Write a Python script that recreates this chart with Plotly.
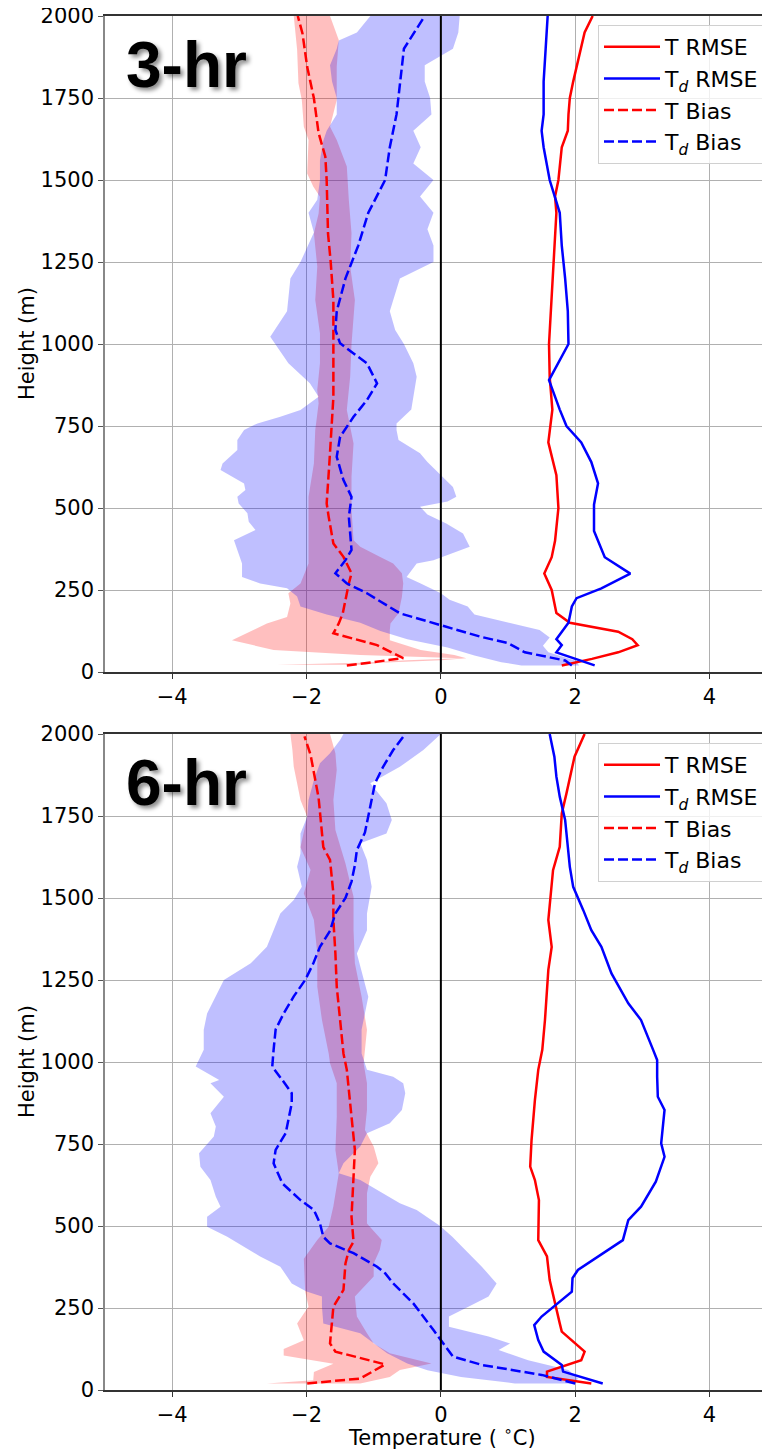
import plotly.graph_objects as go

# ---------------- 3-hr panel data ----------------
h3_t_rmse = [20, 40, 60, 82, 100, 123, 150, 180, 200, 250, 300, 350, 400, 500, 600, 700, 800, 900, 1000,
             1100, 1200, 1300, 1400, 1450, 1500, 1600, 1650, 1700, 1750, 1800, 1900, 1950, 2000]
t3_rmse = [1.80, 2.25, 2.64, 2.93, 2.85, 2.64, 1.92, 1.72, 1.70, 1.65, 1.54, 1.65, 1.70, 1.75, 1.72, 1.60, 1.66,
           1.62, 1.61, 1.64, 1.66, 1.70, 1.72, 1.70, 1.75, 1.80, 1.89, 1.90, 1.92, 1.97, 2.09, 2.14, 2.26]

h3_td_rmse = [20, 60, 82, 100, 150, 200, 225, 255, 300, 350, 430, 510, 575, 640, 700, 750, 800, 890, 1000,
              1100, 1200, 1300, 1400, 1450, 1500, 1600, 1650, 1700, 1800, 1900, 2000]
td3_rmse = [2.29, 1.72, 1.80, 1.72, 1.90, 1.95, 2.02, 2.39, 2.82, 2.44, 2.28, 2.28, 2.34, 2.24, 2.09, 1.87, 1.77,
            1.61, 1.90, 1.89, 1.85, 1.80, 1.77, 1.70, 1.62, 1.53, 1.50, 1.53, 1.53, 1.56, 1.59]

h3_t_bias = [20, 42, 82, 118, 148, 179, 270, 301, 351, 392, 473, 514, 636, 838, 1033, 1134, 1250, 1337, 1500,
             1571, 1643, 1749, 1845, 1947, 2000]
t3_bias = [-1.40, -0.56, -0.95, -1.60, -1.52, -1.46, -1.37, -1.33, -1.45, -1.60, -1.67, -1.70, -1.66, -1.60,
           -1.60, -1.60, -1.64, -1.68, -1.70, -1.72, -1.82, -1.89, -1.99, -2.06, -2.13]

h3_td_bias = [20, 35, 60, 88, 107, 143, 179, 240, 270, 301, 341, 372, 473, 534, 585, 656, 717, 778, 829, 880,
              941, 1002, 1043, 1100, 1200, 1300, 1400, 1500, 1600, 1700, 1800, 1900, 2000]
td3_bias = [1.95, 1.85, 1.25, 1.00, 0.60, -0.01, -0.61, -1.10, -1.40, -1.57, -1.42, -1.33, -1.37, -1.33, -1.45,
            -1.55, -1.50, -1.30, -1.10, -0.95, -1.10, -1.50, -1.57, -1.55, -1.42, -1.23, -1.08, -0.83, -0.76,
            -0.66, -0.61, -0.55, -0.24]

# T bias spread band (left / right edges)
h3_tband_left = [22, 28, 36, 42, 52, 67, 97, 128, 148, 168, 209, 240, 270, 331, 433, 534, 636, 738, 819, 860,
                 941, 1033, 1134, 1236, 1338, 1398, 1449, 1480, 1520, 1622, 1662, 1744, 1795, 1897, 2000]
t3_band_left = [-2.44, -1.20, -0.50, 0.30, -1.20, -2.49, -3.11, -2.78, -2.59, -2.29, -2.24, -2.27, -2.09, -1.97,
                -1.97, -1.97, -1.89, -1.87, -1.82, -1.84, -1.80, -1.80, -1.87, -1.84, -1.89, -1.82, -1.80, -1.90,
                -1.99, -1.97, -2.04, -2.07, -2.12, -2.14, -2.19]
h3_tband_right = [22, 28, 36, 42, 52, 67, 97, 128, 148, 179, 229, 270, 301, 331, 351, 382, 402, 494, 595, 697,
                  799, 900, 1000, 1134, 1236, 1338, 1439, 1541, 1622, 1662, 1744, 1845, 1927, 2000]
t3_band_right = [-1.15, -0.90, 0.00, 0.38, 0.20, -0.30, -0.76, -0.76, -0.75, -0.63, -0.58, -0.56, -0.58, -0.71,
                 -0.91, -1.20, -1.30, -1.33, -1.33, -1.30, -1.40, -1.35, -1.33, -1.28, -1.35, -1.33, -1.37, -1.40,
                 -1.55, -1.65, -1.55, -1.55, -1.52, -1.65]

# Td bias spread band
h3_tdband_left = [20, 30, 50, 75, 100, 125, 150, 175, 200, 230, 255, 270, 290, 331, 372, 402, 433, 458, 484, 514,
                  534, 555, 575, 595, 616, 636, 677, 707, 738, 758, 778, 799, 839, 880, 941, 1022, 1100, 1200,
                  1250, 1340, 1400, 1440, 1500, 1560, 1620, 1650, 1700, 1750, 1800, 1850, 1900, 1925, 1950, 2000]
td3_band_left = [1.20, 0.90, 0.50, 0.10, -0.50, -0.90, -1.20, -1.70, -2.09, -2.14, -2.29, -2.69, -2.96, -2.96,
                 -3.03, -3.08, -2.76, -2.86, -2.88, -3.01, -3.03, -2.91, -2.93, -3.10, -3.28, -3.25, -3.03, -3.03,
                 -2.93, -2.73, -2.39, -2.09, -1.82, -1.95, -2.27, -2.54, -2.29, -2.24, -2.09, -1.89, -1.97, -1.84,
                 -1.80, -1.80, -1.75, -1.70, -1.55, -1.55, -1.62, -1.65, -1.55, -1.52, -1.25, -1.05]
h3_tdband_right = [20, 35, 60, 80, 105, 128, 150, 175, 200, 220, 240, 270, 290, 331, 341, 382, 422, 453, 480, 504,
                   520, 534, 564, 600, 640, 667, 707, 738, 758, 800, 900, 941, 1000, 1043, 1100, 1200, 1250, 1300,
                   1350, 1400, 1450, 1500, 1550, 1600, 1650, 1700, 1750, 1800, 1850, 1900, 1950, 2000]
td3_band_right = [2.06, 2.00, 1.60, 1.52, 1.62, 1.47, 1.00, 0.50, 0.40, 0.13, 0.00, -0.30, -0.51, -0.36, -0.11,
                  0.43, 0.33, 0.08, -0.20, -0.31, 0.10, 0.23, 0.18, 0.00, -0.20, -0.31, -0.63, -0.66, -0.66, -0.44,
                  -0.36, -0.41, -0.55, -0.68, -0.76, -0.61, -0.11, -0.11, -0.20, -0.11, -0.31, -0.11, -0.41, -0.30,
                  -0.41, -0.14, -0.16, -0.24, -0.24, 0.18, 0.26, 0.28]

# ---------------- 6-hr panel data ----------------
h6_t_rmse = [20, 40, 56, 91, 117, 178, 203, 285, 335, 407, 457, 579, 640, 681, 762, 884, 976, 1037, 1128, 1281,
             1351, 1433, 1585, 1656, 1758, 1819, 1931, 2000]
t6_rmse = [2.24, 1.58, 1.58, 2.09, 2.14, 1.80, 1.77, 1.67, 1.62, 1.58, 1.45, 1.46, 1.40, 1.33, 1.35, 1.40, 1.45,
           1.51, 1.55, 1.60, 1.65, 1.60, 1.67, 1.77, 1.80, 1.87, 1.99, 2.14]

h6_td_rmse = [20, 56, 76, 117, 152, 198, 224, 300, 341, 366, 457, 518, 559, 635, 711, 752, 854, 894, 955, 1006,
              1037, 1128, 1179, 1270, 1351, 1402, 1463, 1534, 1595, 1738, 1809, 1870, 1931, 2000]
td6_rmse = [2.41, 1.82, 1.80, 1.53, 1.45, 1.39, 1.50, 1.95, 1.96, 2.04, 2.71, 2.79, 2.98, 3.20, 3.33, 3.28, 3.33,
            3.23, 3.22, 3.22, 3.16, 2.98, 2.79, 2.54, 2.39, 2.24, 2.12, 1.97, 1.92, 1.85, 1.77, 1.72, 1.69, 1.62]

h6_t_bias = [20, 35, 78, 117, 142, 203, 254, 305, 386, 427, 452, 528, 630, 732, 833, 976, 1026, 1128, 1230, 1331,
             1433, 1514, 1616, 1655, 1748, 1805, 1937, 1993]
t6_bias = [-1.99, -1.20, -0.83, -1.57, -1.65, -1.62, -1.60, -1.45, -1.42, -1.37, -1.30, -1.33, -1.30, -1.28,
           -1.33, -1.40, -1.45, -1.50, -1.55, -1.57, -1.60, -1.60, -1.65, -1.75, -1.80, -1.82, -1.94, -2.03]

h6_td_bias = [20, 30, 46, 61, 76, 102, 142, 183, 264, 325, 356, 376, 417, 447, 467, 508, 549, 579, 630, 691, 732,
              783, 874, 905, 945, 986, 1037, 1099, 1148, 1200, 1250, 1300, 1351, 1400, 1453, 1500, 1550, 1600,
              1646, 1700, 1800, 1850, 1900, 1951, 2000]
td6_bias = [2.00, 1.80, 1.50, 1.06, 0.62, 0.18, 0.03, -0.11, -0.41, -0.71, -0.83, -0.95, -1.30, -1.65, -1.75,
            -1.80, -1.89, -2.09, -2.36, -2.49, -2.46, -2.31, -2.22, -2.22, -2.36, -2.51, -2.49, -2.46, -2.34,
            -2.19, -2.02, -1.90, -1.80, -1.65, -1.57, -1.42, -1.33, -1.28, -1.25, -1.13, -1.03, -0.98, -0.86,
            -0.71, -0.53]

h6_tband_left = [20, 30, 55, 80, 105, 125, 152, 203, 233, 254, 300, 400, 457, 498, 560, 660, 732, 833, 935, 996,
                 1026, 1128, 1230, 1331, 1433, 1514, 1585, 1655, 1748, 1799, 1850, 1900, 1951, 2000]
t6_band_left = [-2.59, -1.90, -1.89, -1.60, -2.34, -2.34, -2.04, -2.14, -2.04, -1.97, -2.02, -2.04, -1.84, -1.67,
                -1.60, -1.52, -1.57, -1.55, -1.55, -1.65, -1.67, -1.77, -1.84, -1.84, -1.89, -2.04, -1.94, -2.09,
                -1.99, -2.09, -2.14, -2.19, -2.21, -2.24]
h6_tband_right = [20, 40, 61, 81, 112, 142, 173, 224, 285, 346, 386, 427, 457, 508, 600, 650, 691, 742, 793, 854,
                  935, 996, 1098, 1199, 1301, 1402, 1504, 1605, 1707, 1799, 1890, 1941, 2000]
t6_band_right = [-1.20, -0.76, -0.61, -0.14, -0.76, -1.00, -1.10, -1.25, -1.28, -1.00, -1.00, -0.91, -0.88, -1.10,
                 -1.10, -1.05, -0.93, -1.00, -1.13, -1.10, -1.10, -1.15, -1.10, -1.18, -1.28, -1.30, -1.30, -1.42,
                 -1.57, -1.60, -1.55, -1.57, -1.65]

h6_tdband_left = [20, 40, 60, 81, 112, 142, 173, 203, 254, 285, 300, 325, 376, 407, 437, 467, 498, 528, 559, 589,
                  640, 681, 722, 773, 803, 844, 894, 935, 945, 986, 1037, 1098, 1148, 1199, 1250, 1301, 1351, 1402,
                  1453, 1494, 1534, 1595, 1636, 1697, 1748, 1799, 1860, 1911, 1941, 1982, 2000]
td6_band_left = [1.10, 0.30, -0.20, -0.50, -0.80, -1.00, -1.20, -1.75, -1.77, -1.77, -2.00, -2.22, -2.39, -2.69,
                 -2.93, -3.18, -3.48, -3.48, -3.28, -3.35, -3.43, -3.58, -3.60, -3.38, -3.35, -3.43, -3.23, -3.43,
                 -3.30, -3.65, -3.53, -3.53, -3.48, -3.35, -3.23, -2.83, -2.59, -2.49, -2.39, -2.19, -2.07, -2.14,
                 -2.09, -2.09, -1.99, -1.97, -1.89, -1.80, -1.65, -1.50, -1.45]
h6_tdband_right = [20, 36, 61, 91, 122, 142, 163, 193, 224, 254, 285, 325, 376, 427, 467, 500, 549, 569, 600, 640,
                   661, 691, 742, 783, 813, 854, 905, 935, 955, 976, 1026, 1098, 1199, 1250, 1331, 1402, 1453, 1534,
                   1616, 1667, 1697, 1738, 1789, 1850, 1900, 1951, 2000]
td6_band_right = [2.00, 2.04, 1.90, 1.30, 0.86, 1.03, 0.71, 0.12, 0.12, 0.41, 0.71, 0.83, 0.61, 0.37, 0.17, -0.01,
                  -0.36, -0.61, -0.86, -1.20, -1.52, -1.45, -1.20, -1.10, -0.76, -0.58, -0.53, -0.56, -0.71, -1.10,
                  -1.18, -1.18, -1.08, -1.15, -1.25, -1.10, -1.10, -1.03, -1.10, -1.20, -0.81, -0.73, -0.81, -1.05,
                  -0.61, -0.26, 0.00]

x_ticks = [-4, -2, 0, 2, 4]
x_ticktext = ["\u22124", "\u22122", "0", "2", "4"]
y_ticks = [0, 250, 500, 750, 1000, 1250, 1500, 1750, 2000]
panel_labels = ["3-hr", "6-hr"]
legend_names = ["T RMSE", "T<sub><i>d</i></sub> RMSE", "T Bias", "T<sub><i>d</i></sub> Bias"]

RED = "#ff0000"
BLUE = "#0000ff"
FONT = "DejaVu Sans, Verdana, sans-serif"

# the page body adds an 8px margin; size the figure so that it fills the window exactly
OFF = 8
W, H = 770 - OFF, 1451 - OFF
ML, MR, MT, MB = 105 - OFF, 0, 16 - OFF, 61
PW, PH = W - ML - MR, H - MT - MB

fig = go.Figure()


def band(xl, hl, xr, hr, color, xa, ya):
    xs = list(xl) + list(xr)[::-1]
    ys = list(hl) + list(hr)[::-1]
    return go.Scatter(x=xs, y=ys, fill="toself", fillcolor=color, mode="lines",
                      line=dict(width=0, color=color), showlegend=False, hoverinfo="skip",
                      xaxis=xa, yaxis=ya)


panels = [
    dict(xa="x", ya="y", leg="legend",
         tb=(t3_band_left, h3_tband_left, t3_band_right, h3_tband_right),
         db=(td3_band_left, h3_tdband_left, td3_band_right, h3_tdband_right),
         lines=[(t3_rmse, h3_t_rmse, RED, "solid"), (td3_rmse, h3_td_rmse, BLUE, "solid"),
                (t3_bias, h3_t_bias, RED, "10px,4px"), (td3_bias, h3_td_bias, BLUE, "10px,4px")]),
    dict(xa="x2", ya="y2", leg="legend2",
         tb=(t6_band_left, h6_tband_left, t6_band_right, h6_tband_right),
         db=(td6_band_left, h6_tdband_left, td6_band_right, h6_tdband_right),
         lines=[(t6_rmse, h6_t_rmse, RED, "solid"), (td6_rmse, h6_td_rmse, BLUE, "solid"),
                (t6_bias, h6_t_bias, RED, "10px,4px"), (td6_bias, h6_td_bias, BLUE, "10px,4px")]),
]

for p in panels:
    fig.add_trace(band(*p["tb"], "rgba(255,0,0,0.25)", p["xa"], p["ya"]))
    fig.add_trace(band(*p["db"], "rgba(0,0,255,0.25)", p["xa"], p["ya"]))
    for (xv, hv, col, dash), name in zip(p["lines"], legend_names):
        fig.add_trace(go.Scatter(x=xv, y=hv, mode="lines", name=name,
                                 line=dict(color=col, width=2.5, dash=dash),
                                 xaxis=p["xa"], yaxis=p["ya"], legend=p["leg"]))

axis_common = dict(
    range=[-5, 4.9], tickvals=x_ticks, ticktext=x_ticktext, showgrid=True, gridcolor="#b0b0b0",
    gridwidth=1, zeroline=False, ticks="outside", ticklen=5, tickwidth=1.2, tickcolor="#333",
    showline=True, linecolor="#333", linewidth=1.5, mirror=True, automargin=False,
    ticklabeloverflow="allow",
    tickfont=dict(family=FONT, size=21, color="black"),
)
yaxis_common = dict(
    range=[0, 2000], tickvals=y_ticks, showgrid=True, gridcolor="#b0b0b0", gridwidth=1,
    zeroline=False, ticks="outside", ticklen=5, tickwidth=1.2, tickcolor="#555",
    showline=True, linecolor="#888", linewidth=1.5, automargin=False,
    ticklabeloverflow="allow",
    tickfont=dict(family=FONT, size=21, color="black"),
)

top_dom = [1 - 656 / PH, 1]
bot_dom = [0, 656 / PH]

legend_common = dict(
    xanchor="left", yanchor="top", bgcolor="rgba(255,255,255,0.8)", bordercolor="#d0d0d0",
    borderwidth=1, font=dict(family=FONT, size=22, color="black"), tracegroupgap=0, itemwidth=56,
)


def px_x(px):
    # page pixel -> paper coordinate
    return (px - OFF - ML) / PW


def px_y(py):
    return 1 - (py - OFF - MT) / PH


fig.update_layout(
    width=W, height=H,
    margin=dict(l=ML, r=MR, t=MT, b=MB, autoexpand=False),
    paper_bgcolor="white", plot_bgcolor="white",
    xaxis=dict(domain=[0, 1], anchor="y", **axis_common),
    yaxis=dict(domain=top_dom, anchor="x", **yaxis_common),
    xaxis2=dict(domain=[0, 1], anchor="y2", **axis_common),
    yaxis2=dict(domain=bot_dom, anchor="x2", **yaxis_common),
    legend=dict(x=px_x(598), y=px_y(25), **legend_common),
    legend2=dict(x=px_x(598), y=px_y(743), **legend_common),
    showlegend=True,
)

# zero line at x = 0 in each panel
for xa, ya in [("x", "y"), ("x2", "y2")]:
    fig.add_shape(type="line", xref=xa, yref=ya, x0=0, x1=0, y0=0, y1=2000,
                  line=dict(color="black", width=2), layer="above")

for (xa, ya), lab in zip([("x", "y"), ("x2", "y2")], panel_labels):
    fig.add_annotation(x=-3.78, y=1850, xref=xa, yref=ya, text="<b>" + lab + "</b>", showarrow=False,
                       font=dict(family="Liberation Sans, Arial, sans-serif", size=64, color="black",
                                 shadow="3px 3px 4px rgba(0,0,0,0.45)"))

# axis titles
for cy in [344, 1062]:
    fig.add_annotation(x=px_x(27), y=px_y(cy), xref="paper", yref="paper", text="Height (m)",
                       textangle=-90, showarrow=False, xanchor="center", yanchor="middle",
                       font=dict(family=FONT, size=21, color="black"))
fig.add_annotation(x=px_x(442), y=px_y(1436), xref="paper", yref="paper",
                   text="Temperature ( <sup>\u2218</sup>C)", showarrow=False,
                   xanchor="center", yanchor="middle", font=dict(family=FONT, size=21, color="black"))

fig.write_html("out.html")
